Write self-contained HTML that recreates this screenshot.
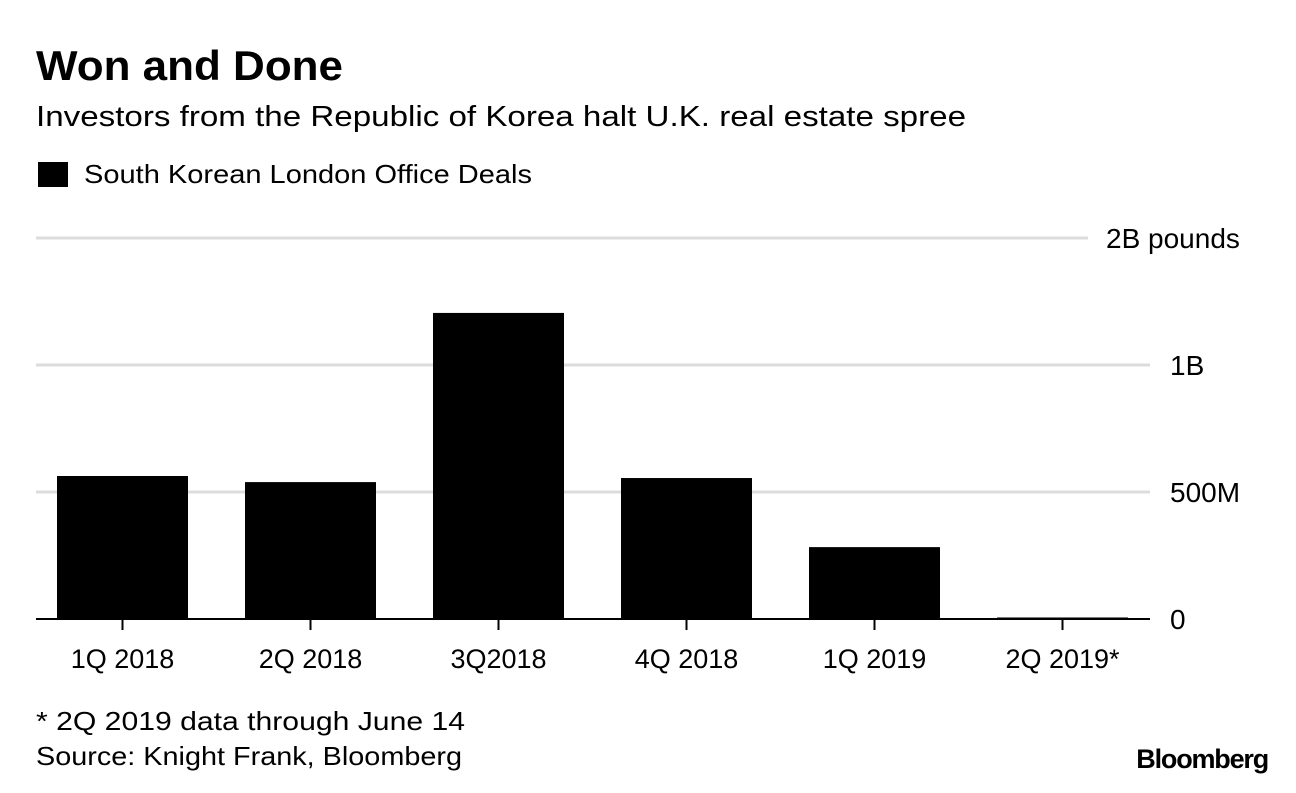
<!DOCTYPE html>
<html><head><meta charset="utf-8"><style>
body{margin:0;background:#fff;width:1296px;height:788px;overflow:hidden;font-family:"Liberation Sans",Arial,sans-serif}
</style></head><body>
<svg width="1296" height="788" font-family="Liberation Sans, Arial, sans-serif">
<text x="36" y="80" font-size="42" font-weight="bold" fill="#000" textLength="307" lengthAdjust="spacingAndGlyphs">Won and Done</text>
<text x="36" y="126" font-size="29" fill="#000" textLength="930" lengthAdjust="spacingAndGlyphs">Investors from the Republic of Korea halt U.K. real estate spree</text>
<rect x="38" y="162" width="30" height="25" fill="#000"/>
<text x="84" y="183" font-size="26" fill="#000" textLength="448" lengthAdjust="spacingAndGlyphs">South Korean London Office Deals</text>
<g id="grid"></g><g id="bars"></g><g id="xaxis"></g>
<text x="36" y="730" font-size="26" fill="#000" textLength="429" lengthAdjust="spacingAndGlyphs">* 2Q 2019 data through June 14</text>
<text x="36" y="765" font-size="26" fill="#000" textLength="426" lengthAdjust="spacingAndGlyphs">Source: Knight Frank, Bloomberg</text>
<text x="1268" y="768" font-size="27" font-weight="bold" text-anchor="end" fill="#000" letter-spacing="-1.2">Bloomberg</text>
</svg>
<script>
const categories=["1Q 2018","2Q 2018","3Q2018","4Q 2018","1Q 2019","2Q 2019*"];
const values=[0.563,0.539,1.205,0.555,0.283,0.006];
const tickValues=[0,0.5,1,1.5];
const tickLabels=["0","500M","1B","2B pounds"];
const NS="http://www.w3.org/2000/svg";
const y=v=>619-v*254;
const x=i=>122.5+i*188;
function mk(t,a,p){const e=document.createElementNS(NS,t);for(const k in a)e.setAttribute(k,a[k]);p.appendChild(e);return e;}
const grid=document.getElementById('grid'),bars=document.getElementById('bars'),xa=document.getElementById('xaxis');
tickValues.forEach((v,i)=>{
  if(v!==0){const l=mk('line',{x1:36,x2:i===3?1088:1150,y1:y(v),y2:y(v),stroke:'#dcdcdc','stroke-width':3},grid);
  
  }
  const t=mk('text',{x:i===3?1106:1170,y:y(v)+10,'font-size':28,fill:'#000'},grid);
  t.textContent=tickLabels[i];
  
  
});
values.forEach((v,i)=>{
  const r=mk('rect',{x:x(i)-65.5,y:y(v),width:131,height:Math.max(619-y(v),1.5),fill:'#000'},bars);
  
  
  const tk=mk('line',{x1:x(i),x2:x(i),y1:619,y2:630,stroke:'#000','stroke-width':2},xa);
  
  
  const t=mk('text',{x:x(i),y:668,'font-size':27,'text-anchor':'middle',fill:'#000'},xa);
  t.textContent=categories[i];
  
  
});
const ax=mk('line',{x1:36,x2:1150,y1:619,y2:619,stroke:'#000','stroke-width':2},xa);


</script>
</body></html>
